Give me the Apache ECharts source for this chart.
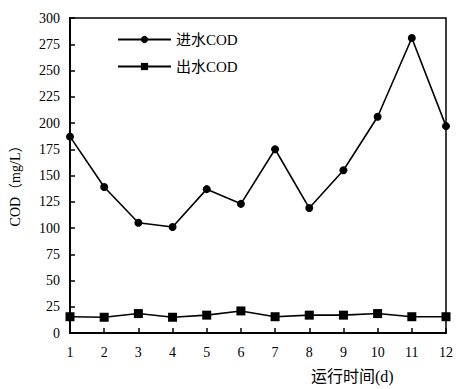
<!DOCTYPE html>
<html>
<head>
<meta charset="utf-8">
<script src="https://cdn.jsdelivr.net/npm/echarts@6/dist/echarts.min.js"></script>
<style>
  html, body { margin: 0; padding: 0; background: #fff; }
  #chart { width: 457px; height: 389px; }
</style>
</head>
<body>
<div id="chart"></div>
<script>
const days = [ '1', '2', '3', '4', '5', '6', '7', '8', '9', '10', '11', '12' ];
const influentCod = [ 187, 139, 105, 101, 137, 123, 175, 119, 155, 206, 281, 197 ];
const effluentCod = [ 15.5, 15, 18.5, 15, 17, 21, 15.5, 17, 17, 18.5, 15.5, 15.5 ];

const fontFamily = '"Liberation Serif", "Noto Sans CJK SC", serif';

const chart = echarts.init( document.getElementById( 'chart' ), null, { renderer: 'svg' } );

chart.setOption( {
	animation: false,
	textStyle: { fontFamily: fontFamily, color: '#000' },
	grid: {
		left: 70,
		right: 11,
		top: 18,
		bottom: 56,
		show: true,
		borderColor: '#000',
		borderWidth: 1.5
	},
	legend: {
		orient: 'vertical',
		left: 117,
		top: 32,
		padding: 0,
		itemWidth: 53,
		itemHeight: 9,
		itemGap: 12,
		textStyle: { fontFamily: fontFamily, fontSize: 15, color: '#000' },
		data: [ '进水COD', '出水COD' ]
	},
	xAxis: {
		type: 'category',
		data: days,
		boundaryGap: false,
		axisLine: { lineStyle: { color: '#000', width: 2 } },
		axisTick: { inside: true, length: 5, lineStyle: { color: '#000', width: 1.5 } },
		axisLabel: { fontFamily: fontFamily, fontSize: 14, color: '#000', margin: 12 },
		splitLine: { show: false }
	},
	yAxis: {
		type: 'value',
		min: 0,
		max: 300,
		interval: 25,
		name: 'COD（mg/L）',
		nameLocation: 'middle',
		nameGap: 48,
		nameTextStyle: { fontFamily: fontFamily, fontSize: 14, color: '#000', padding: [ 0, 14, 0, 0 ] },
		axisLine: { show: true, lineStyle: { color: '#000', width: 2 } },
		axisTick: { show: true, inside: true, length: 5, lineStyle: { color: '#000', width: 1.5 } },
		axisLabel: { fontFamily: fontFamily, fontSize: 14, color: '#000', margin: 10 },
		splitLine: { show: false }
	},
	graphic: [ {
		type: 'text',
		left: 311,
		top: 368,
		style: { text: '运行时间(d)', font: '16px ' + fontFamily, fill: '#000' }
	} ],
	series: [ {
		name: '进水COD',
		type: 'line',
		data: influentCod,
		symbol: 'circle',
		symbolSize: 8,
		itemStyle: { color: '#000' },
		lineStyle: { color: '#000', width: 1.6 }
	}, {
		name: '出水COD',
		type: 'line',
		data: effluentCod,
		symbol: 'rect',
		symbolSize: 9,
		itemStyle: { color: '#000' },
		lineStyle: { color: '#000', width: 1.6 }
	} ]
} );
</script>
</body>
</html>
